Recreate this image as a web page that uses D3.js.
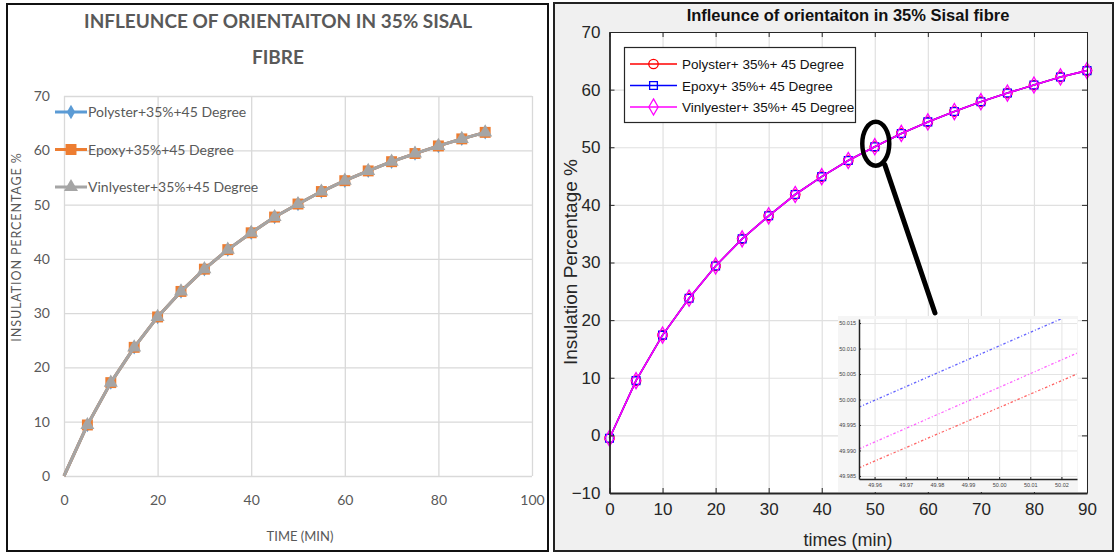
<!DOCTYPE html>
<html>
<head>
<meta charset="utf-8">
<script src="https://cdn.jsdelivr.net/npm/d3@7"></script>
<style>
  body { margin: 0; background: #ffffff; }
  svg { display: block; }
</style>
</head>
<body>
<svg id="fig" width="1115" height="553"></svg>
<script>
// ---- data ----
const times = [0, 5, 10, 15, 20, 25, 30, 35, 40, 45, 50, 55, 60, 65, 70, 75, 80, 85, 90];

// Excel chart series (insulation %)
const polysterExcel = [0, 9.4, 17.2, 23.7, 29.3, 34.0, 38.1, 41.7, 44.8, 47.7, 50.1, 52.4, 54.4, 56.2, 57.9, 59.4, 60.8, 62.1, 63.3];
const epoxyExcel    = [0, 9.4, 17.2, 23.7, 29.3, 34.0, 38.1, 41.7, 44.8, 47.7, 50.1, 52.4, 54.4, 56.2, 57.9, 59.4, 60.8, 62.1, 63.3];
const vinylExcel    = [0, 9.4, 17.2, 23.7, 29.3, 34.0, 38.1, 41.7, 44.8, 47.7, 50.1, 52.4, 54.4, 56.2, 57.9, 59.4, 60.8, 62.1, 63.3];

// MATLAB chart series (insulation %)
const polysterMatlab = [-0.5, 9.5, 17.4, 23.8, 29.4, 34.1, 38.1, 41.8, 44.9, 47.7, 50.1, 52.4, 54.4, 56.2, 57.9, 59.4, 60.8, 62.2, 63.3];
const epoxyMatlab    = [-0.5, 9.5, 17.4, 23.8, 29.4, 34.1, 38.1, 41.8, 44.9, 47.7, 50.1, 52.4, 54.4, 56.2, 57.9, 59.4, 60.8, 62.2, 63.3];
const vinylMatlab    = [-0.5, 9.5, 17.4, 23.8, 29.4, 34.1, 38.1, 41.8, 44.9, 47.7, 50.1, 52.4, 54.4, 56.2, 57.9, 59.4, 60.8, 62.2, 63.3];

// zoomed detail around t = 50 min
const insetX        = [49.955, 50.025];
const insetPolyster = [49.9866, 50.0050];
const insetEpoxy    = [49.9985, 50.0172];
const insetVinyl    = [49.9903, 50.0091];

// tick values
const excelXTicks  = [0, 20, 40, 60, 80, 100];
const excelYTicks  = [0, 10, 20, 30, 40, 50, 60, 70];
const matlabXTicks = [0, 10, 20, 30, 40, 50, 60, 70, 80, 90];
const matlabYTicks = [-10, 0, 10, 20, 30, 40, 50, 60, 70];
const insetXTicks  = [49.96, 49.97, 49.98, 49.99, 50.00, 50.01, 50.02];
const insetYTicks  = [49.985, 49.99, 49.995, 50.0, 50.005, 50.01, 50.015];

// legend labels
const excelLabels  = ["Polyster+35%+45 Degree", "Epoxy+35%+45 Degree", "Vinlyester+35%+45 Degree"];
const matlabLabels = ["Polyster+ 35%+ 45 Degree", "Epoxy+ 35%+ 45 Degree", "Vinlyester+ 35%+ 45 Degree"];

const svg = d3.select("#fig");

// ================= left panel: Excel style =================
svg.append("rect").attr("x", 7).attr("y", 4).attr("width", 541).attr("height", 547)
  .attr("fill", "#ffffff").attr("stroke", "#111").attr("stroke-width", 2);

const exFont = "Lato, 'Open Sans', sans-serif";
const exGrey = "#595959";

const ex = { left: 64, right: 532, top: 96, bottom: 476 };
const exX = d3.scaleLinear().domain([0, 100]).range([ex.left, ex.right]);
const exY = d3.scaleLinear().domain([0, 70]).range([ex.bottom, ex.top]);
const exG = svg.append("g");

// gridlines
exG.append("g").attr("transform", `translate(0,${ex.bottom})`)
  .call(d3.axisBottom(exX).tickValues(excelXTicks).tickSize(-(ex.bottom - ex.top)).tickFormat(""))
  .call(g => g.select(".domain").remove())
  .call(g => g.selectAll("line").attr("stroke", "#d9d9d9").attr("stroke-width", 1.3));
exG.append("g").attr("transform", `translate(${ex.left},0)`)
  .call(d3.axisLeft(exY).tickValues(excelYTicks).tickSize(-(ex.right - ex.left)).tickFormat(""))
  .call(g => g.select(".domain").remove())
  .call(g => g.selectAll("line").attr("stroke", "#d9d9d9").attr("stroke-width", 1.3));

// tick labels
exG.append("g").attr("transform", `translate(${ex.left - 6},0)`)
  .call(d3.axisLeft(exY).tickValues(excelYTicks).tickSize(0).tickPadding(8))
  .call(g => g.select(".domain").remove())
  .call(g => g.selectAll("text").attr("fill", exGrey).attr("font-size", 14).attr("font-family", exFont));
exG.append("g").attr("transform", `translate(0,${ex.bottom + 12})`)
  .call(d3.axisBottom(exX).tickValues(excelXTicks).tickSize(0).tickPadding(7))
  .call(g => g.select(".domain").remove())
  .call(g => g.selectAll("text").attr("fill", exGrey).attr("font-size", 14).attr("font-family", exFont));

// titles
exG.append("text").attr("x", 278).attr("y", 28).attr("text-anchor", "middle")
  .attr("font-family", exFont).attr("font-weight", 700).attr("font-size", 18).attr("fill", exGrey)
  .attr("textLength", 388).attr("lengthAdjust", "spacingAndGlyphs")
  .text("INFLEUNCE OF ORIENTAITON IN 35% SISAL");
exG.append("text").attr("x", 278).attr("y", 64).attr("text-anchor", "middle")
  .attr("font-family", exFont).attr("font-weight", 700).attr("font-size", 18).attr("fill", exGrey)
  .attr("textLength", 52).attr("lengthAdjust", "spacingAndGlyphs")
  .text("FIBRE");
exG.append("text").attr("x", 300).attr("y", 541).attr("text-anchor", "middle")
  .attr("font-family", exFont).attr("font-size", 13).attr("fill", exGrey)
  .text("TIME (MIN)");
exG.append("text").attr("transform", "translate(21,247) rotate(-90)").attr("text-anchor", "middle")
  .attr("font-family", exFont).attr("font-size", 12.5).attr("fill", exGrey).attr("letter-spacing", 0.9)
  .text("INSULATION PERCENTAGE %");

// series
const exSeries = [
  { vals: polysterExcel, color: "#5b9bd5", shape: d3.symbolDiamond, size: 60 },
  { vals: epoxyExcel,    color: "#ed7d31", shape: d3.symbolSquare,  size: 120 },
  { vals: vinylExcel,    color: "#a5a5a5", shape: d3.symbolTriangle, size: 85 }
];
const exLine = d3.line().x((d, i) => exX(times[i])).y(d => exY(d));
exSeries.forEach(s => {
  exG.append("path").datum(s.vals).attr("d", exLine)
    .attr("fill", "none").attr("stroke", s.color).attr("stroke-width", 3).attr("stroke-linejoin", "round");
  exG.append("g").selectAll("path").data(s.vals.slice(1)).join("path")
    .attr("transform", (d, i) => `translate(${exX(times[i + 1])},${exY(d)})`)
    .attr("d", d3.symbol().type(s.shape).size(s.size))
    .attr("fill", s.color);
});

// legend
exSeries.forEach((s, i) => {
  const y = 112 + i * 37.5;
  exG.append("line").attr("x1", 55).attr("x2", 87).attr("y1", y).attr("y2", y)
    .attr("stroke", s.color).attr("stroke-width", 3);
  exG.append("path").attr("transform", `translate(71,${y})`)
    .attr("d", d3.symbol().type(s.shape).size(s.size)).attr("fill", s.color);
  exG.append("text").attr("x", 88).attr("y", y + 5).attr("font-family", exFont)
    .attr("font-size", 14).attr("fill", exGrey).text(excelLabels[i]);
});

// ================= right panel: MATLAB style =================
svg.append("rect").attr("x", 554).attr("y", 3).attr("width", 559).attr("height", 548)
  .attr("fill", "#f0f0f0").attr("stroke", "#222").attr("stroke-width", 2);

const mFont = "'Liberation Sans', Arial, sans-serif";
const mk = { left: 609.5, right: 1087, top: 32, bottom: 493 };
const mX = d3.scaleLinear().domain([0, 90]).range([mk.left, mk.right]);
const mY = d3.scaleLinear().domain([-10, 70]).range([mk.bottom, mk.top]);
const mG = svg.append("g");

mG.append("rect").attr("x", mk.left).attr("y", mk.top)
  .attr("width", mk.right - mk.left).attr("height", mk.bottom - mk.top).attr("fill", "#ffffff");

// gridlines
mG.append("g").attr("transform", `translate(0,${mk.bottom})`)
  .call(d3.axisBottom(mX).tickValues(matlabXTicks).tickSize(-(mk.bottom - mk.top)).tickFormat(""))
  .call(g => g.select(".domain").remove())
  .call(g => g.selectAll("line").attr("stroke", "#e0e0e0").attr("stroke-width", 1.2));
mG.append("g").attr("transform", `translate(${mk.left},0)`)
  .call(d3.axisLeft(mY).tickValues(matlabYTicks).tickSize(-(mk.right - mk.left)).tickFormat(""))
  .call(g => g.select(".domain").remove())
  .call(g => g.selectAll("line").attr("stroke", "#e0e0e0").attr("stroke-width", 1.2));

// series
const mSeries = [
  { vals: polysterMatlab, color: "#ff0000", shape: "circle" },
  { vals: epoxyMatlab,    color: "#0000ff", shape: "square" },
  { vals: vinylMatlab,    color: "#ff00ff", shape: "diamond" }
];
const markerPath = {
  circle: d3.symbol().type(d3.symbolCircle).size(70),
  square: d3.symbol().type(d3.symbolSquare).size(60),
  diamond: d3.symbol().type(d3.symbolDiamond).size(75)
};
const mLine = d3.line().x((d, i) => mX(times[i])).y(d => mY(d));
mSeries.forEach(s => {
  mG.append("path").datum(s.vals).attr("d", mLine)
    .attr("fill", "none").attr("stroke", s.color).attr("stroke-width", 1.6);
  mG.append("g").selectAll("path").data(s.vals).join("path")
    .attr("transform", (d, i) => `translate(${mX(times[i])},${mY(d)})`)
    .attr("d", markerPath[s.shape]())
    .attr("fill", "none").attr("stroke", s.color).attr("stroke-width", 1.3);
});

// axes box with inward ticks
const axisStyle = g => {
  g.select(".domain").attr("stroke", "#262626").attr("stroke-width", 1.8);
  g.selectAll(".tick line").attr("stroke", "#262626");
  g.selectAll("text").attr("fill", "#262626").attr("font-family", mFont).attr("font-size", 17);
};
mG.append("g").attr("transform", `translate(0,${mk.bottom})`)
  .call(d3.axisBottom(mX).tickValues(matlabXTicks).tickSizeInner(-5).tickSizeOuter(0).tickPadding(10))
  .call(axisStyle);
mG.append("g").attr("transform", `translate(${mk.left},0)`)
  .call(d3.axisLeft(mY).tickValues(matlabYTicks).tickSizeInner(-5).tickSizeOuter(0).tickPadding(9))
  .call(axisStyle);
mG.append("g").attr("transform", `translate(0,${mk.top})`)
  .call(d3.axisTop(mX).tickValues(matlabXTicks).tickSizeInner(-5).tickSizeOuter(0).tickFormat(""))
  .call(axisStyle).call(g => g.select(".domain").attr("stroke-width", 1));
mG.append("g").attr("transform", `translate(${mk.right},0)`)
  .call(d3.axisRight(mY).tickValues(matlabYTicks).tickSizeInner(-5).tickSizeOuter(0).tickFormat(""))
  .call(axisStyle).call(g => g.select(".domain").attr("stroke-width", 1));

// labels
mG.append("text").attr("x", 848).attr("y", 21).attr("text-anchor", "middle")
  .attr("font-family", mFont).attr("font-weight", 700).attr("font-size", 16.5).attr("fill", "#111")
  .text("Infleunce of orientaiton in 35% Sisal fibre");
mG.append("text").attr("x", 848).attr("y", 546).attr("text-anchor", "middle")
  .attr("font-family", mFont).attr("font-size", 18).attr("fill", "#262626")
  .text("times (min)");
mG.append("text").attr("transform", "translate(577,262) rotate(-90)").attr("text-anchor", "middle")
  .attr("font-family", mFont).attr("font-size", 19).attr("fill", "#262626")
  .text("Insulation Percentage %");

// legend
mG.append("rect").attr("x", 624.5).attr("y", 47.5).attr("width", 231).attr("height", 75)
  .attr("fill", "#ffffff").attr("stroke", "#262626").attr("stroke-width", 1.2);
mSeries.forEach((s, i) => {
  const y = 64 + i * 21.5;
  mG.append("line").attr("x1", 630).attr("x2", 677).attr("y1", y).attr("y2", y)
    .attr("stroke", s.color).attr("stroke-width", 1.6);
  mG.append("path").attr("transform", `translate(653.5,${y})`)
    .attr("d", markerPath[s.shape]()).attr("fill", "none").attr("stroke", s.color).attr("stroke-width", 1.3);
  mG.append("text").attr("x", 682).attr("y", y + 5).attr("font-family", mFont)
    .attr("font-size", 13.5).attr("fill", "#111").text(matlabLabels[i]);
});

// ---- inset: magnified view near t = 50 ----
const ins = { left: 859, right: 1077, top: 319, bottom: 479 };
mG.append("rect").attr("x", 838).attr("y", 316).attr("width", 240).attr("height", 176).attr("fill", "#f5f5f5");
const iX = d3.scaleLinear().domain(insetX).range([ins.left, ins.right]);
const iY = d3.scaleLinear().domain([49.9844, 50.0158]).range([ins.bottom, ins.top]);
const iG = mG.append("g");
iG.append("rect").attr("x", ins.left).attr("y", ins.top).attr("width", ins.right - ins.left)
  .attr("height", ins.bottom - ins.top).attr("fill", "#ffffff");
iG.append("g").attr("transform", `translate(0,${ins.bottom})`)
  .call(d3.axisBottom(iX).tickValues(insetXTicks).tickSize(-(ins.bottom - ins.top)).tickFormat(""))
  .call(g => g.select(".domain").remove())
  .call(g => g.selectAll("line").attr("stroke", "#e4e4e4"));
iG.append("g").attr("transform", `translate(${ins.left},0)`)
  .call(d3.axisLeft(iY).tickValues(insetYTicks).tickSize(-(ins.right - ins.left)).tickFormat(""))
  .call(g => g.select(".domain").remove())
  .call(g => g.selectAll("line").attr("stroke", "#e4e4e4"));

const clip = iG.append("clipPath").attr("id", "insetClip");
clip.append("rect").attr("x", ins.left).attr("y", ins.top).attr("width", ins.right - ins.left).attr("height", ins.bottom - ins.top);
const iLine = d3.line().x((d, i) => iX(insetX[i])).y(d => iY(d));
[[insetPolyster, "#ff3030"], [insetVinyl, "#ff30ff"], [insetEpoxy, "#3030ff"]].forEach(([vals, c]) => {
  iG.append("path").datum(vals).attr("d", iLine).attr("clip-path", "url(#insetClip)")
    .attr("fill", "none").attr("stroke", c).attr("stroke-width", 1.3).attr("stroke-dasharray", "2.5,2,1,2")
    .attr("opacity", 0.75);
});

const insetAxisStyle = g => {
  g.select(".domain").attr("stroke", "#222").attr("stroke-width", 1.5);
  g.selectAll(".tick line").attr("stroke", "#222");
  g.selectAll("text").attr("fill", "#444").attr("font-family", mFont).attr("font-size", 5.5);
};
iG.append("g").attr("transform", `translate(0,${ins.bottom})`)
  .call(d3.axisBottom(iX).tickValues(insetXTicks).tickSizeInner(-2).tickSizeOuter(0).tickPadding(4)
    .tickFormat(d3.format(".2f")))
  .call(insetAxisStyle);
iG.append("g").attr("transform", `translate(${ins.left},0)`)
  .call(d3.axisLeft(iY).tickValues(insetYTicks).tickSizeInner(-2).tickSizeOuter(0).tickPadding(3)
    .tickFormat(d3.format(".3f")))
  .call(insetAxisStyle);

// callout: ellipse around the t = 50 point and a pointer to the inset
const cx = mX(times[10]) + 1, cy = mY(vinylMatlab[10]) - 3;
mG.append("ellipse").attr("cx", cx).attr("cy", cy).attr("rx", 13.5).attr("ry", 22)
  .attr("fill", "none").attr("stroke", "#000").attr("stroke-width", 4.5);
mG.append("line").attr("x1", cx + 9).attr("y1", cy + 21).attr("x2", 935).attr("y2", 313)
  .attr("stroke", "#000").attr("stroke-width", 5).attr("stroke-linecap", "round");
</script>
</body>
</html>
